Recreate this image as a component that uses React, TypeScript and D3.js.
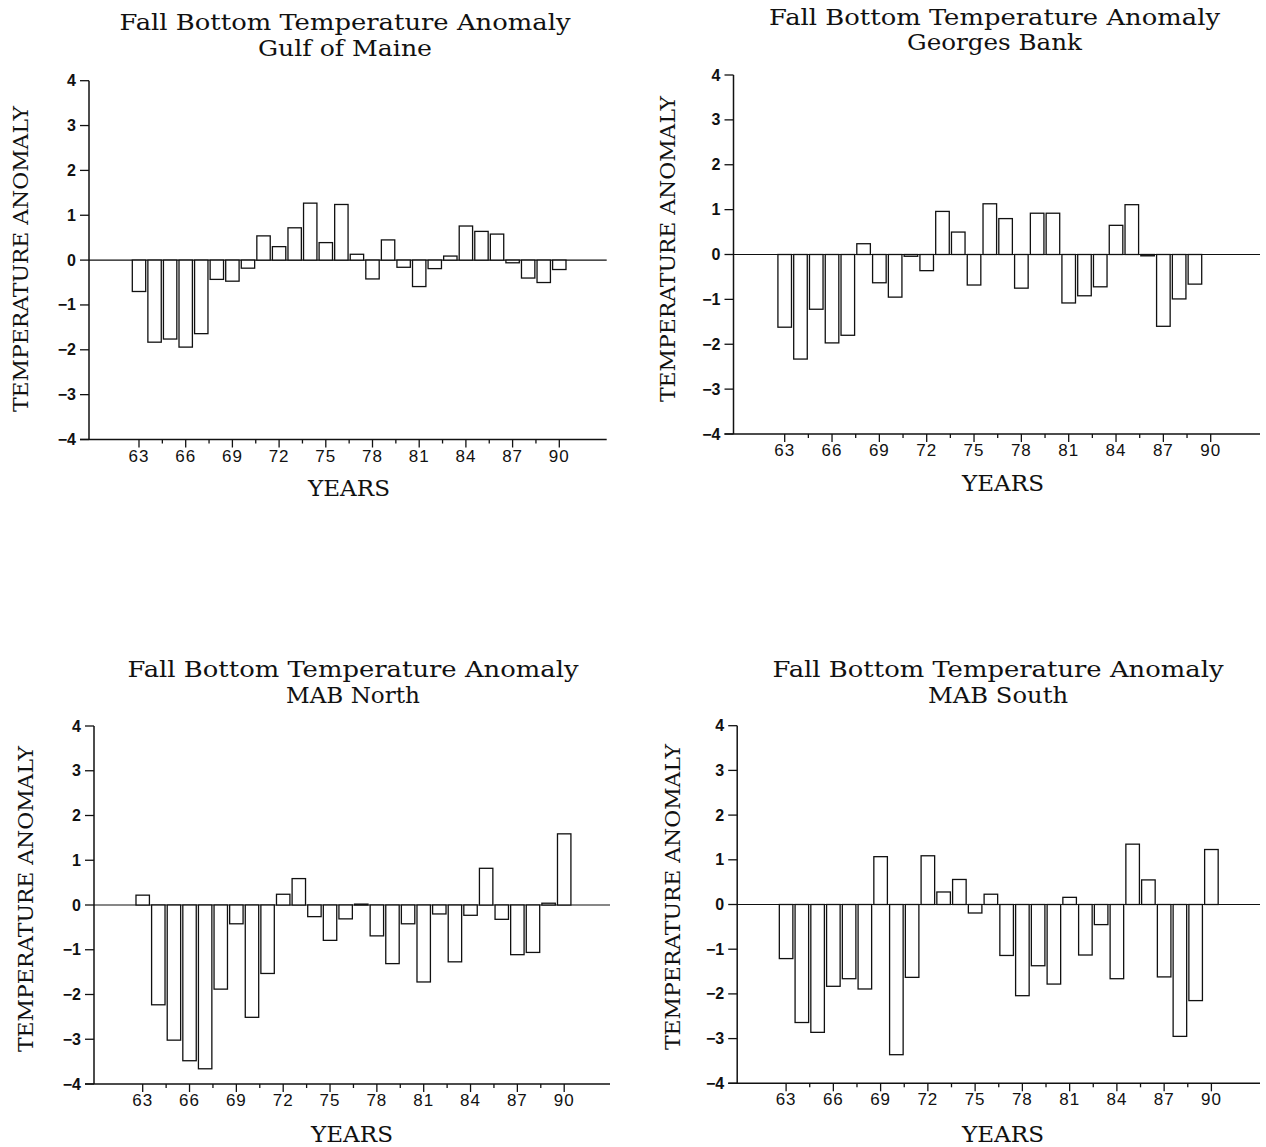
import React from "react";
import * as d3 from "d3";

// ---------- DATA ----------
const years = [63, 64, 65, 66, 67, 68, 69, 70, 71, 72, 73, 74, 75, 76, 77, 78, 79, 80, 81, 82, 83, 84, 85, 86, 87, 88, 89, 90];

const gulfOfMaine = [-0.70, -1.83, -1.76, -1.94, -1.64, -0.43, -0.47, -0.18, 0.54, 0.30, 0.72, 1.27, 0.39, 1.24, 0.13, -0.42, 0.45, -0.16, -0.59, -0.19, 0.09, 0.76, 0.64, 0.58, -0.06, -0.40, -0.50, -0.21];
const georgesBank = [-1.62, -2.33, -1.22, -1.97, -1.80, 0.24, -0.63, -0.95, -0.04, -0.36, 0.96, 0.50, -0.68, 1.13, 0.80, -0.75, 0.92, 0.92, -1.08, -0.92, -0.72, 0.65, 1.11, -0.03, -1.60, -0.99, -0.66, null];
const mabNorth = [0.22, -2.23, -3.02, -3.48, -3.66, -1.88, -0.42, -2.51, -1.53, 0.24, 0.59, -0.26, -0.79, -0.31, 0.02, -0.69, -1.31, -0.42, -1.72, -0.20, -1.27, -0.23, 0.82, -0.32, -1.11, -1.06, 0.04, 1.59];
const mabSouth = [-1.21, -2.64, -2.86, -1.83, -1.66, -1.89, 1.07, -3.36, -1.63, 1.09, 0.28, 0.56, -0.19, 0.23, -1.14, -2.04, -1.37, -1.78, 0.16, -1.13, -0.45, -1.66, 1.35, 0.55, -1.62, -2.95, -2.15, 1.23];

const yTicks = [-4, -3, -2, -1, 0, 1, 2, 3, 4];
const xMajorTicks = [63, 66, 69, 72, 75, 78, 81, 84, 87, 90];
const xMinorTicks = [64.5, 67.5, 70.5, 73.5, 76.5, 79.5, 82.5, 85.5, 88.5];

const titleLine1 = "Fall Bottom Temperature Anomaly";
const regionNames = ["Gulf of Maine", "Georges Bank", "MAB North", "MAB South"];
const yAxisTitle = "TEMPERATURE ANOMALY";
const xAxisTitle = "YEARS";

// ---------- LAYOUT ----------
const panels = [
  { values: gulfOfMaine, name: regionNames[0], axisX: 89, yTop: 80.7, yBot: 439.5, x63: 139, x90: 559.3, xRight: 606.7,
    titleCx: 345, t1Y: 30, t2Y: 56, t2W: 174, yLabX: 21, yLabCy: 259, yearsCx: 349, yearsY: 496 },
  { values: georgesBank, name: regionNames[1], axisX: 733.5, yTop: 75, yBot: 434, x63: 784.7, x90: 1210.7, xRight: 1260,
    titleCx: 994.5, t1Y: 25, t2Y: 50, t2W: 175, yLabX: 668, yLabCy: 249, yearsCx: 1003, yearsY: 491 },
  { values: mabNorth, name: regionNames[2], axisX: 94, yTop: 726, yBot: 1084, x63: 142.7, x90: 564.2, xRight: 610,
    titleCx: 353, t1Y: 677, t2Y: 703, t2W: 134, yLabX: 26, yLabCy: 899, yearsCx: 352, yearsY: 1142 },
  { values: mabSouth, name: regionNames[3], axisX: 737.2, yTop: 725.7, yBot: 1083.3, x63: 786.1, x90: 1211.4, xRight: 1260,
    titleCx: 998, t1Y: 677, t2Y: 703, t2W: 140, yLabX: 673, yLabCy: 897, yearsCx: 1003, yearsY: 1142 },
];

const SERIF = "'DejaVu Serif', 'Liberation Serif', serif";
const SANS = "'Liberation Sans', Arial, sans-serif";
const INK = "#111";

function Panel({ p }: { p: any }) {
  const x = d3.scaleLinear().domain([63, 90]).range([p.x63, p.x90]);
  const y = d3.scaleLinear().domain([-4, 4]).range([p.yBot, p.yTop]);
  const step = x(64) - x(63);
  const bw = step * 0.86;
  const y0 = y(0);
  return (
    <g>
      {/* titles */}
      <text x={p.titleCx} y={p.t1Y} textAnchor="middle" fontFamily={SERIF} fontSize={23}
        textLength={451} lengthAdjust="spacingAndGlyphs" fill={INK}>{titleLine1}</text>
      <text x={p.titleCx} y={p.t2Y} textAnchor="middle" fontFamily={SERIF} fontSize={23}
        textLength={p.t2W} lengthAdjust="spacingAndGlyphs" fill={INK}>{p.name}</text>

      {/* y axis title */}
      <text transform={`translate(${p.yLabX},${p.yLabCy}) rotate(-90)`} textAnchor="middle" dominantBaseline="central"
        fontFamily={SERIF} fontSize={21} textLength={306} lengthAdjust="spacingAndGlyphs" fill={INK}>{yAxisTitle}</text>

      {/* x axis title */}
      <text x={p.yearsCx} y={p.yearsY} textAnchor="middle" fontFamily={SERIF} fontSize={23}
        textLength={82} lengthAdjust="spacingAndGlyphs" fill={INK}>{xAxisTitle}</text>

      {/* zero line */}
      <line x1={p.axisX} x2={p.xRight} y1={y0} y2={y0} stroke={INK} strokeWidth={1.2} />

      {/* bars */}
      {p.values.map((v: number | null, i: number) => {
        if (v === null) return null;
        const yv = y(v);
        return (
          <rect key={i} x={x(years[i]) - bw / 2} y={Math.min(yv, y0)} width={bw}
            height={Math.max(Math.abs(yv - y0), 0.8)} fill="white" stroke={INK} strokeWidth={1.3} />
        );
      })}

      {/* y axis */}
      <line x1={p.axisX} x2={p.axisX} y1={p.yTop} y2={p.yBot} stroke={INK} strokeWidth={1.5} />
      {yTicks.map((t) => (
        <g key={t}>
          <line x1={p.axisX - 9} x2={p.axisX} y1={y(t)} y2={y(t)} stroke={INK} strokeWidth={1.3} />
          <text x={p.axisX - 13} y={y(t)} textAnchor="end" dominantBaseline="central" fontFamily={SANS}
            fontSize={16} fontWeight="bold" fill={INK}>{t < 0 ? "\u2212" + Math.abs(t) : String(t)}</text>
        </g>
      ))}

      {/* x axis */}
      <line x1={p.axisX - 9} x2={p.xRight} y1={p.yBot} y2={p.yBot} stroke={INK} strokeWidth={1.5} />
      {xMajorTicks.map((t) => (
        <g key={t}>
          <line x1={x(t)} x2={x(t)} y1={p.yBot} y2={p.yBot + 8} stroke={INK} strokeWidth={1.3} />
          <text x={x(t)} y={p.yBot + 22} textAnchor="middle" fontFamily={SANS} fontSize={17}
            letterSpacing={1} fill={INK}>{String(t)}</text>
        </g>
      ))}
      {xMinorTicks.map((t) => (
        <line key={t} x1={x(t)} x2={x(t)} y1={p.yBot} y2={p.yBot + 4} stroke={INK} strokeWidth={1.3} />
      ))}
    </g>
  );
}

export default function App() {
  return (
    <svg width={1266} height={1147} viewBox="0 0 1266 1147"
      style={{ position: "absolute", left: 0, top: 0, background: "white" }}>
      <rect x={0} y={0} width={1266} height={1147} fill="white" />
      {panels.map((p, i) => <Panel key={i} p={p} />)}
    </svg>
  );
}
